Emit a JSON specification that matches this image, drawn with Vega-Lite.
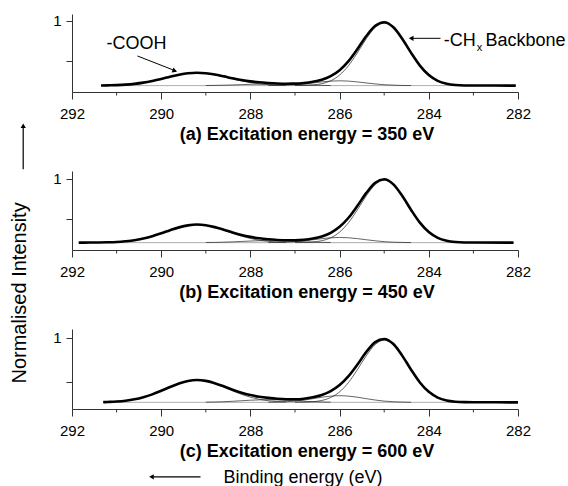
{
"$schema": "https://vega.github.io/schema/vega-lite/v6.json",
"background": "white",
"padding": {"left": 9, "top": 13, "right": 0, "bottom": 0},
"config": {"font": "Liberation Sans", "view": {"stroke": null},
  "axis": {"domainColor": "#333", "tickColor": "#333", "labelColor": "#000", "titleColor": "#000", "labelFont": "Liberation Sans", "titleFont": "Liberation Sans", "grid": false, "labelFontSize": 15, "domainWidth": 1, "tickWidth": 1},
  "text": {"font": "Liberation Sans", "color": "#000"}},
"datasets": {
"one": [{"k": 1}],
"minor": [{"x":283},{"x":285},{"x":287},{"x":289},{"x":291}],
"curves": [
{"p":"a","s":"B","x":282.05,"y":0.19},{"p":"a","s":"B","x":291.35,"y":0.19},
{"p":"a","s":"E","x":282.05,"y":0.19},{"p":"a","s":"E","x":283.0,"y":0.191},{"p":"a","s":"E","x":283.2,"y":0.192},{"p":"a","s":"E","x":283.4,"y":0.198},{"p":"a","s":"E","x":283.6,"y":0.214},{"p":"a","s":"E","x":283.8,"y":0.25},{"p":"a","s":"E","x":284.0,"y":0.322},{"p":"a","s":"E","x":284.2,"y":0.44},{"p":"a","s":"E","x":284.4,"y":0.602},{"p":"a","s":"E","x":284.6,"y":0.779},{"p":"a","s":"E","x":284.8,"y":0.922},{"p":"a","s":"E","x":285.0,"y":0.982},{"p":"a","s":"E","x":285.2,"y":0.937},{"p":"a","s":"E","x":285.4,"y":0.81},{"p":"a","s":"E","x":285.6,"y":0.647},{"p":"a","s":"E","x":285.8,"y":0.496},{"p":"a","s":"E","x":286.0,"y":0.382},{"p":"a","s":"E","x":286.2,"y":0.308},{"p":"a","s":"E","x":286.4,"y":0.263},{"p":"a","s":"E","x":286.6,"y":0.237},{"p":"a","s":"E","x":286.8,"y":0.222},{"p":"a","s":"E","x":287.0,"y":0.215},{"p":"a","s":"E","x":287.2,"y":0.214},{"p":"a","s":"E","x":287.4,"y":0.217},{"p":"a","s":"E","x":287.6,"y":0.223},{"p":"a","s":"E","x":287.8,"y":0.231},{"p":"a","s":"E","x":288.0,"y":0.243},{"p":"a","s":"E","x":288.2,"y":0.26},{"p":"a","s":"E","x":288.4,"y":0.281},{"p":"a","s":"E","x":288.6,"y":0.306},{"p":"a","s":"E","x":288.8,"y":0.329},{"p":"a","s":"E","x":289.0,"y":0.345},{"p":"a","s":"E","x":289.2,"y":0.351},{"p":"a","s":"E","x":289.4,"y":0.344},{"p":"a","s":"E","x":289.6,"y":0.326},{"p":"a","s":"E","x":289.8,"y":0.301},{"p":"a","s":"E","x":290.0,"y":0.273},{"p":"a","s":"E","x":290.2,"y":0.248},{"p":"a","s":"E","x":290.4,"y":0.227},{"p":"a","s":"E","x":290.6,"y":0.212},{"p":"a","s":"E","x":290.8,"y":0.202},{"p":"a","s":"E","x":291.0,"y":0.196},{"p":"a","s":"E","x":291.2,"y":0.193},{"p":"a","s":"E","x":291.35,"y":0.191},
{"p":"a","s":"1","x":283.0,"y":0.191},{"p":"a","s":"1","x":283.2,"y":0.192},{"p":"a","s":"1","x":283.4,"y":0.198},{"p":"a","s":"1","x":283.6,"y":0.214},{"p":"a","s":"1","x":283.8,"y":0.25},{"p":"a","s":"1","x":284.0,"y":0.322},{"p":"a","s":"1","x":284.2,"y":0.44},{"p":"a","s":"1","x":284.4,"y":0.601},{"p":"a","s":"1","x":284.6,"y":0.777},{"p":"a","s":"1","x":284.8,"y":0.916},{"p":"a","s":"1","x":285.0,"y":0.97},{"p":"a","s":"1","x":285.2,"y":0.916},{"p":"a","s":"1","x":285.4,"y":0.777},{"p":"a","s":"1","x":285.6,"y":0.601},{"p":"a","s":"1","x":285.8,"y":0.44},{"p":"a","s":"1","x":286.0,"y":0.322},{"p":"a","s":"1","x":286.2,"y":0.25},{"p":"a","s":"1","x":286.4,"y":0.214},{"p":"a","s":"1","x":286.6,"y":0.198},{"p":"a","s":"1","x":286.8,"y":0.192},{"p":"a","s":"1","x":287.0,"y":0.191},
{"p":"a","s":"2","x":284.4,"y":0.191},{"p":"a","s":"2","x":284.6,"y":0.192},{"p":"a","s":"2","x":284.8,"y":0.196},{"p":"a","s":"2","x":285.0,"y":0.201},{"p":"a","s":"2","x":285.2,"y":0.211},{"p":"a","s":"2","x":285.4,"y":0.223},{"p":"a","s":"2","x":285.6,"y":0.236},{"p":"a","s":"2","x":285.8,"y":0.246},{"p":"a","s":"2","x":286.0,"y":0.25},{"p":"a","s":"2","x":286.2,"y":0.246},{"p":"a","s":"2","x":286.4,"y":0.236},{"p":"a","s":"2","x":286.6,"y":0.223},{"p":"a","s":"2","x":286.8,"y":0.211},{"p":"a","s":"2","x":287.0,"y":0.201},{"p":"a","s":"2","x":287.2,"y":0.196},{"p":"a","s":"2","x":287.4,"y":0.192},{"p":"a","s":"2","x":287.6,"y":0.191},
{"p":"a","s":"3","x":286.2,"y":0.191},{"p":"a","s":"3","x":286.4,"y":0.193},{"p":"a","s":"3","x":286.6,"y":0.195},{"p":"a","s":"3","x":286.8,"y":0.198},{"p":"a","s":"3","x":287.0,"y":0.202},{"p":"a","s":"3","x":287.2,"y":0.206},{"p":"a","s":"3","x":287.4,"y":0.209},{"p":"a","s":"3","x":287.6,"y":0.21},{"p":"a","s":"3","x":287.8,"y":0.209},{"p":"a","s":"3","x":288.0,"y":0.206},{"p":"a","s":"3","x":288.2,"y":0.202},{"p":"a","s":"3","x":288.4,"y":0.198},{"p":"a","s":"3","x":288.6,"y":0.195},{"p":"a","s":"3","x":288.8,"y":0.193},{"p":"a","s":"3","x":289.0,"y":0.191},
{"p":"a","s":"4","x":287.2,"y":0.193},{"p":"a","s":"4","x":287.4,"y":0.196},{"p":"a","s":"4","x":287.6,"y":0.202},{"p":"a","s":"4","x":287.8,"y":0.212},{"p":"a","s":"4","x":288.0,"y":0.227},{"p":"a","s":"4","x":288.2,"y":0.248},{"p":"a","s":"4","x":288.4,"y":0.273},{"p":"a","s":"4","x":288.6,"y":0.301},{"p":"a","s":"4","x":288.8,"y":0.326},{"p":"a","s":"4","x":289.0,"y":0.344},{"p":"a","s":"4","x":289.2,"y":0.35},{"p":"a","s":"4","x":289.4,"y":0.344},{"p":"a","s":"4","x":289.6,"y":0.326},{"p":"a","s":"4","x":289.8,"y":0.301},{"p":"a","s":"4","x":290.0,"y":0.273},{"p":"a","s":"4","x":290.2,"y":0.248},{"p":"a","s":"4","x":290.4,"y":0.227},{"p":"a","s":"4","x":290.6,"y":0.212},{"p":"a","s":"4","x":290.8,"y":0.202},{"p":"a","s":"4","x":291.0,"y":0.196},{"p":"a","s":"4","x":291.2,"y":0.193},
{"p":"b","s":"B","x":282.1,"y":0.2},{"p":"b","s":"B","x":291.85,"y":0.2},
{"p":"b","s":"E","x":282.1,"y":0.2},{"p":"b","s":"E","x":283.0,"y":0.201},{"p":"b","s":"E","x":283.2,"y":0.202},{"p":"b","s":"E","x":283.4,"y":0.208},{"p":"b","s":"E","x":283.6,"y":0.224},{"p":"b","s":"E","x":283.8,"y":0.26},{"p":"b","s":"E","x":284.0,"y":0.332},{"p":"b","s":"E","x":284.2,"y":0.45},{"p":"b","s":"E","x":284.4,"y":0.612},{"p":"b","s":"E","x":284.6,"y":0.789},{"p":"b","s":"E","x":284.8,"y":0.932},{"p":"b","s":"E","x":285.0,"y":0.992},{"p":"b","s":"E","x":285.2,"y":0.949},{"p":"b","s":"E","x":285.4,"y":0.822},{"p":"b","s":"E","x":285.6,"y":0.661},{"p":"b","s":"E","x":285.8,"y":0.511},{"p":"b","s":"E","x":286.0,"y":0.398},{"p":"b","s":"E","x":286.2,"y":0.323},{"p":"b","s":"E","x":286.4,"y":0.277},{"p":"b","s":"E","x":286.6,"y":0.251},{"p":"b","s":"E","x":286.8,"y":0.236},{"p":"b","s":"E","x":287.0,"y":0.23},{"p":"b","s":"E","x":287.2,"y":0.23},{"p":"b","s":"E","x":287.4,"y":0.234},{"p":"b","s":"E","x":287.6,"y":0.242},{"p":"b","s":"E","x":287.8,"y":0.254},{"p":"b","s":"E","x":288.0,"y":0.272},{"p":"b","s":"E","x":288.2,"y":0.296},{"p":"b","s":"E","x":288.4,"y":0.327},{"p":"b","s":"E","x":288.6,"y":0.362},{"p":"b","s":"E","x":288.8,"y":0.394},{"p":"b","s":"E","x":289.0,"y":0.418},{"p":"b","s":"E","x":289.2,"y":0.426},{"p":"b","s":"E","x":289.4,"y":0.416},{"p":"b","s":"E","x":289.6,"y":0.391},{"p":"b","s":"E","x":289.8,"y":0.356},{"p":"b","s":"E","x":290.0,"y":0.317},{"p":"b","s":"E","x":290.2,"y":0.281},{"p":"b","s":"E","x":290.4,"y":0.252},{"p":"b","s":"E","x":290.6,"y":0.23},{"p":"b","s":"E","x":290.8,"y":0.217},{"p":"b","s":"E","x":291.0,"y":0.208},{"p":"b","s":"E","x":291.2,"y":0.204},{"p":"b","s":"E","x":291.4,"y":0.202},{"p":"b","s":"E","x":291.6,"y":0.201},{"p":"b","s":"E","x":291.85,"y":0.2},
{"p":"b","s":"1","x":283.0,"y":0.201},{"p":"b","s":"1","x":283.2,"y":0.202},{"p":"b","s":"1","x":283.4,"y":0.208},{"p":"b","s":"1","x":283.6,"y":0.224},{"p":"b","s":"1","x":283.8,"y":0.26},{"p":"b","s":"1","x":284.0,"y":0.332},{"p":"b","s":"1","x":284.2,"y":0.45},{"p":"b","s":"1","x":284.4,"y":0.611},{"p":"b","s":"1","x":284.6,"y":0.787},{"p":"b","s":"1","x":284.8,"y":0.926},{"p":"b","s":"1","x":285.0,"y":0.98},{"p":"b","s":"1","x":285.2,"y":0.926},{"p":"b","s":"1","x":285.4,"y":0.787},{"p":"b","s":"1","x":285.6,"y":0.611},{"p":"b","s":"1","x":285.8,"y":0.45},{"p":"b","s":"1","x":286.0,"y":0.332},{"p":"b","s":"1","x":286.2,"y":0.26},{"p":"b","s":"1","x":286.4,"y":0.224},{"p":"b","s":"1","x":286.6,"y":0.208},{"p":"b","s":"1","x":286.8,"y":0.202},{"p":"b","s":"1","x":287.0,"y":0.201},
{"p":"b","s":"2","x":284.4,"y":0.201},{"p":"b","s":"2","x":284.6,"y":0.203},{"p":"b","s":"2","x":284.8,"y":0.206},{"p":"b","s":"2","x":285.0,"y":0.212},{"p":"b","s":"2","x":285.2,"y":0.223},{"p":"b","s":"2","x":285.4,"y":0.236},{"p":"b","s":"2","x":285.6,"y":0.25},{"p":"b","s":"2","x":285.8,"y":0.261},{"p":"b","s":"2","x":286.0,"y":0.265},{"p":"b","s":"2","x":286.2,"y":0.261},{"p":"b","s":"2","x":286.4,"y":0.25},{"p":"b","s":"2","x":286.6,"y":0.236},{"p":"b","s":"2","x":286.8,"y":0.223},{"p":"b","s":"2","x":287.0,"y":0.212},{"p":"b","s":"2","x":287.2,"y":0.206},{"p":"b","s":"2","x":287.4,"y":0.203},{"p":"b","s":"2","x":287.6,"y":0.201},
{"p":"b","s":"3","x":286.2,"y":0.202},{"p":"b","s":"3","x":286.4,"y":0.203},{"p":"b","s":"3","x":286.6,"y":0.206},{"p":"b","s":"3","x":286.8,"y":0.21},{"p":"b","s":"3","x":287.0,"y":0.215},{"p":"b","s":"3","x":287.2,"y":0.22},{"p":"b","s":"3","x":287.4,"y":0.224},{"p":"b","s":"3","x":287.6,"y":0.225},{"p":"b","s":"3","x":287.8,"y":0.224},{"p":"b","s":"3","x":288.0,"y":0.22},{"p":"b","s":"3","x":288.2,"y":0.215},{"p":"b","s":"3","x":288.4,"y":0.21},{"p":"b","s":"3","x":288.6,"y":0.206},{"p":"b","s":"3","x":288.8,"y":0.203},{"p":"b","s":"3","x":289.0,"y":0.202},
{"p":"b","s":"4","x":287.2,"y":0.204},{"p":"b","s":"4","x":287.4,"y":0.208},{"p":"b","s":"4","x":287.6,"y":0.217},{"p":"b","s":"4","x":287.8,"y":0.23},{"p":"b","s":"4","x":288.0,"y":0.252},{"p":"b","s":"4","x":288.2,"y":0.281},{"p":"b","s":"4","x":288.4,"y":0.317},{"p":"b","s":"4","x":288.6,"y":0.356},{"p":"b","s":"4","x":288.8,"y":0.391},{"p":"b","s":"4","x":289.0,"y":0.416},{"p":"b","s":"4","x":289.2,"y":0.425},{"p":"b","s":"4","x":289.4,"y":0.416},{"p":"b","s":"4","x":289.6,"y":0.391},{"p":"b","s":"4","x":289.8,"y":0.356},{"p":"b","s":"4","x":290.0,"y":0.317},{"p":"b","s":"4","x":290.2,"y":0.281},{"p":"b","s":"4","x":290.4,"y":0.252},{"p":"b","s":"4","x":290.6,"y":0.23},{"p":"b","s":"4","x":290.8,"y":0.217},{"p":"b","s":"4","x":291.0,"y":0.208},{"p":"b","s":"4","x":291.2,"y":0.204},
{"p":"c","s":"B","x":282.0,"y":0.275},{"p":"c","s":"B","x":291.3,"y":0.275},
{"p":"c","s":"E","x":282.0,"y":0.275},{"p":"c","s":"E","x":283.0,"y":0.276},{"p":"c","s":"E","x":283.2,"y":0.277},{"p":"c","s":"E","x":283.4,"y":0.282},{"p":"c","s":"E","x":283.6,"y":0.296},{"p":"c","s":"E","x":283.8,"y":0.329},{"p":"c","s":"E","x":284.0,"y":0.393},{"p":"c","s":"E","x":284.2,"y":0.499},{"p":"c","s":"E","x":284.4,"y":0.645},{"p":"c","s":"E","x":284.6,"y":0.804},{"p":"c","s":"E","x":284.8,"y":0.934},{"p":"c","s":"E","x":285.0,"y":0.989},{"p":"c","s":"E","x":285.2,"y":0.953},{"p":"c","s":"E","x":285.4,"y":0.843},{"p":"c","s":"E","x":285.6,"y":0.701},{"p":"c","s":"E","x":285.8,"y":0.57},{"p":"c","s":"E","x":286.0,"y":0.469},{"p":"c","s":"E","x":286.2,"y":0.401},{"p":"c","s":"E","x":286.4,"y":0.358},{"p":"c","s":"E","x":286.6,"y":0.332},{"p":"c","s":"E","x":286.8,"y":0.316},{"p":"c","s":"E","x":287.0,"y":0.31},{"p":"c","s":"E","x":287.2,"y":0.31},{"p":"c","s":"E","x":287.4,"y":0.315},{"p":"c","s":"E","x":287.6,"y":0.325},{"p":"c","s":"E","x":287.8,"y":0.338},{"p":"c","s":"E","x":288.0,"y":0.357},{"p":"c","s":"E","x":288.2,"y":0.383},{"p":"c","s":"E","x":288.4,"y":0.417},{"p":"c","s":"E","x":288.6,"y":0.456},{"p":"c","s":"E","x":288.8,"y":0.491},{"p":"c","s":"E","x":289.0,"y":0.517},{"p":"c","s":"E","x":289.2,"y":0.526},{"p":"c","s":"E","x":289.4,"y":0.515},{"p":"c","s":"E","x":289.6,"y":0.487},{"p":"c","s":"E","x":289.8,"y":0.448},{"p":"c","s":"E","x":290.0,"y":0.405},{"p":"c","s":"E","x":290.2,"y":0.365},{"p":"c","s":"E","x":290.4,"y":0.333},{"p":"c","s":"E","x":290.6,"y":0.309},{"p":"c","s":"E","x":290.8,"y":0.293},{"p":"c","s":"E","x":291.0,"y":0.284},{"p":"c","s":"E","x":291.2,"y":0.279},{"p":"c","s":"E","x":291.3,"y":0.277},
{"p":"c","s":"1","x":283.0,"y":0.276},{"p":"c","s":"1","x":283.2,"y":0.277},{"p":"c","s":"1","x":283.4,"y":0.282},{"p":"c","s":"1","x":283.6,"y":0.296},{"p":"c","s":"1","x":283.8,"y":0.329},{"p":"c","s":"1","x":284.0,"y":0.393},{"p":"c","s":"1","x":284.2,"y":0.499},{"p":"c","s":"1","x":284.4,"y":0.644},{"p":"c","s":"1","x":284.6,"y":0.801},{"p":"c","s":"1","x":284.8,"y":0.927},{"p":"c","s":"1","x":285.0,"y":0.975},{"p":"c","s":"1","x":285.2,"y":0.927},{"p":"c","s":"1","x":285.4,"y":0.801},{"p":"c","s":"1","x":285.6,"y":0.644},{"p":"c","s":"1","x":285.8,"y":0.499},{"p":"c","s":"1","x":286.0,"y":0.393},{"p":"c","s":"1","x":286.2,"y":0.329},{"p":"c","s":"1","x":286.4,"y":0.296},{"p":"c","s":"1","x":286.6,"y":0.282},{"p":"c","s":"1","x":286.8,"y":0.277},{"p":"c","s":"1","x":287.0,"y":0.276},
{"p":"c","s":"2","x":284.4,"y":0.276},{"p":"c","s":"2","x":284.6,"y":0.278},{"p":"c","s":"2","x":284.8,"y":0.282},{"p":"c","s":"2","x":285.0,"y":0.289},{"p":"c","s":"2","x":285.2,"y":0.301},{"p":"c","s":"2","x":285.4,"y":0.316},{"p":"c","s":"2","x":285.6,"y":0.333},{"p":"c","s":"2","x":285.8,"y":0.345},{"p":"c","s":"2","x":286.0,"y":0.35},{"p":"c","s":"2","x":286.2,"y":0.345},{"p":"c","s":"2","x":286.4,"y":0.333},{"p":"c","s":"2","x":286.6,"y":0.316},{"p":"c","s":"2","x":286.8,"y":0.301},{"p":"c","s":"2","x":287.0,"y":0.289},{"p":"c","s":"2","x":287.2,"y":0.282},{"p":"c","s":"2","x":287.4,"y":0.278},{"p":"c","s":"2","x":287.6,"y":0.276},
{"p":"c","s":"3","x":286.2,"y":0.277},{"p":"c","s":"3","x":286.4,"y":0.279},{"p":"c","s":"3","x":286.6,"y":0.282},{"p":"c","s":"3","x":286.8,"y":0.287},{"p":"c","s":"3","x":287.0,"y":0.293},{"p":"c","s":"3","x":287.2,"y":0.299},{"p":"c","s":"3","x":287.4,"y":0.303},{"p":"c","s":"3","x":287.6,"y":0.305},{"p":"c","s":"3","x":287.8,"y":0.303},{"p":"c","s":"3","x":288.0,"y":0.299},{"p":"c","s":"3","x":288.2,"y":0.293},{"p":"c","s":"3","x":288.4,"y":0.287},{"p":"c","s":"3","x":288.6,"y":0.282},{"p":"c","s":"3","x":288.8,"y":0.279},{"p":"c","s":"3","x":289.0,"y":0.277},
{"p":"c","s":"4","x":287.2,"y":0.279},{"p":"c","s":"4","x":287.4,"y":0.284},{"p":"c","s":"4","x":287.6,"y":0.293},{"p":"c","s":"4","x":287.8,"y":0.309},{"p":"c","s":"4","x":288.0,"y":0.333},{"p":"c","s":"4","x":288.2,"y":0.365},{"p":"c","s":"4","x":288.4,"y":0.405},{"p":"c","s":"4","x":288.6,"y":0.448},{"p":"c","s":"4","x":288.8,"y":0.487},{"p":"c","s":"4","x":289.0,"y":0.515},{"p":"c","s":"4","x":289.2,"y":0.525},{"p":"c","s":"4","x":289.4,"y":0.515},{"p":"c","s":"4","x":289.6,"y":0.487},{"p":"c","s":"4","x":289.8,"y":0.448},{"p":"c","s":"4","x":290.0,"y":0.405},{"p":"c","s":"4","x":290.2,"y":0.365},{"p":"c","s":"4","x":290.4,"y":0.333},{"p":"c","s":"4","x":290.6,"y":0.309},{"p":"c","s":"4","x":290.8,"y":0.293},{"p":"c","s":"4","x":291.0,"y":0.284},{"p":"c","s":"4","x":291.2,"y":0.279}
]},
"spacing": 79,
"bounds": "flush",
"vconcat": [
{
 "width": 446, "height": 78,
 "layer": [
  {"data": {"name": "curves"}, "transform": [{"filter": "datum.p == 'a' && datum.s == 'B'"}], "mark": {"type": "line", "color": "#999", "strokeWidth": 0.8},
   "encoding": {
    "x": {"field": "x", "type": "quantitative", "scale": {"domain": [282, 292], "reverse": true, "nice": false, "zero": false},
     "axis": {"values": [282, 284, 286, 288, 290, 292], "format": "d", "tickSize": 7, "labelPadding": 7, "labelFlush": false, "title": "(a) Excitation energy = 350 eV", "titleFontSize": 18, "titleFontWeight": "bold", "titleX": 234.5, "titleY": 47.5, "titleBaseline": "alphabetic", "titleAlign": "center"}},
    "y": {"field": "y", "type": "quantitative", "scale": {"domain": [0.11, 1.085], "nice": false, "zero": false},
     "axis": {"values": [0.5, 1], "labelExpr": "datum.value == 1 ? '1' : ''", "tickSize": 6, "labelPadding": 5, "title": null}}}},
  {"data": {"name": "curves"}, "transform": [{"filter": "datum.p == 'a' && datum.s != 'B' && datum.s != 'E'"}], "mark": {"type": "line", "color": "#222", "strokeWidth": 0.7, "interpolate": "monotone"},
   "encoding": {"x": {"field": "x", "type": "quantitative"}, "y": {"field": "y", "type": "quantitative"}, "detail": {"field": "s"}}},
  {"data": {"name": "curves"}, "transform": [{"filter": "datum.p == 'a' && datum.s == 'E'"}], "mark": {"type": "line", "color": "#000", "strokeWidth": 2.6, "interpolate": "monotone"},
   "encoding": {"x": {"field": "x", "type": "quantitative"}, "y": {"field": "y", "type": "quantitative"}}},
  {"data": {"name": "minor"}, "mark": {"type": "rule", "color": "#333", "strokeWidth": 1}, "encoding": {"x": {"field": "x", "type": "quantitative"}, "y": {"datum": 0.11, "type": "quantitative"}, "y2": {"datum": 0.066}}},
  {"data": {"name": "one"}, "mark": {"type": "text", "align": "left", "baseline": "alphabetic", "fontSize": 18, "text": "-COOH"}, "encoding": {"x": {"datum": 291.226, "type": "quantitative"}, "y": {"datum": 0.644, "type": "quantitative"}}},
  {"data": {"name": "one"}, "mark": {"type": "rule", "color": "#000", "strokeWidth": 1}, "encoding": {"x": {"datum": 290.531, "type": "quantitative"}, "y": {"datum": 0.56, "type": "quantitative"}, "x2": {"datum": 289.66}, "y2": {"datum": 0.37}}},
  {"data": {"name": "one"}, "mark": {"type": "point", "shape": "triangle-right", "filled": true, "size": 28, "color": "#000", "opacity": 1, "angle": 21.8}, "encoding": {"x": {"datum": 289.697, "type": "quantitative"}, "y": {"datum": 0.374, "type": "quantitative"}}},
  {"data": {"name": "one"}, "mark": {"type": "rule", "color": "#000", "strokeWidth": 1}, "encoding": {"x": {"datum": 283.738, "type": "quantitative"}, "y": {"datum": 0.781, "type": "quantitative"}, "x2": {"datum": 284.42}, "y2": {"datum": 0.781}}},
  {"data": {"name": "one"}, "mark": {"type": "point", "shape": "triangle-left", "filled": true, "size": 28, "color": "#000", "opacity": 1}, "encoding": {"x": {"datum": 284.395, "type": "quantitative"}, "y": {"datum": 0.781, "type": "quantitative"}}},
  {"data": {"name": "one"}, "mark": {"type": "text", "align": "left", "baseline": "alphabetic", "fontSize": 18, "text": "-CH"}, "encoding": {"x": {"datum": 283.664, "type": "quantitative"}, "y": {"datum": 0.685, "type": "quantitative"}}},
  {"data": {"name": "one"}, "mark": {"type": "text", "align": "left", "baseline": "alphabetic", "fontSize": 11, "text": "x"}, "encoding": {"x": {"datum": 282.925, "type": "quantitative"}, "y": {"datum": 0.622, "type": "quantitative"}}},
  {"data": {"name": "one"}, "mark": {"type": "text", "align": "left", "baseline": "alphabetic", "fontSize": 18, "text": "Backbone"}, "encoding": {"x": {"datum": 282.729, "type": "quantitative"}, "y": {"datum": 0.685, "type": "quantitative"}}}
 ]
},
{
 "width": 446, "height": 79,
 "layer": [
  {"data": {"name": "curves"}, "transform": [{"filter": "datum.p == 'b' && datum.s == 'B'"}], "mark": {"type": "line", "color": "#999", "strokeWidth": 0.8},
   "encoding": {
    "x": {"field": "x", "type": "quantitative", "scale": {"domain": [282, 292], "reverse": true, "nice": false, "zero": false},
     "axis": {"values": [282, 284, 286, 288, 290, 292], "format": "d", "tickSize": 7, "labelPadding": 7, "labelFlush": false, "title": "(b) Excitation energy = 450 eV", "titleFontSize": 18, "titleFontWeight": "bold", "titleX": 234.5, "titleY": 47.5, "titleBaseline": "alphabetic", "titleAlign": "center"}},
    "y": {"field": "y", "type": "quantitative", "scale": {"domain": [0.108, 1.096], "nice": false, "zero": false},
     "axis": {"values": [0.5, 1], "labelExpr": "datum.value == 1 ? '1' : ''", "tickSize": 6, "labelPadding": 5, "title": null}}}},
  {"data": {"name": "curves"}, "transform": [{"filter": "datum.p == 'b' && datum.s != 'B' && datum.s != 'E'"}], "mark": {"type": "line", "color": "#222", "strokeWidth": 0.7, "interpolate": "monotone"},
   "encoding": {"x": {"field": "x", "type": "quantitative"}, "y": {"field": "y", "type": "quantitative"}, "detail": {"field": "s"}}},
  {"data": {"name": "curves"}, "transform": [{"filter": "datum.p == 'b' && datum.s == 'E'"}], "mark": {"type": "line", "color": "#000", "strokeWidth": 2.6, "interpolate": "monotone"},
   "encoding": {"x": {"field": "x", "type": "quantitative"}, "y": {"field": "y", "type": "quantitative"}}},
  {"data": {"name": "minor"}, "mark": {"type": "rule", "color": "#333", "strokeWidth": 1}, "encoding": {"x": {"field": "x", "type": "quantitative"}, "y": {"datum": 0.108, "type": "quantitative"}, "y2": {"datum": 0.064}}},
  {"data": {"name": "one"}, "mark": {"type": "text", "align": "center", "baseline": "middle", "angle": 270, "fontSize": 20, "text": "Normalised Intensity"}, "encoding": {"x": {"datum": 293.177, "type": "quantitative"}, "y": {"datum": -0.429, "type": "quantitative"}}},
  {"data": {"name": "one"}, "mark": {"type": "rule", "color": "#000", "strokeWidth": 1.2}, "encoding": {"x": {"datum": 293.094, "type": "quantitative"}, "y": {"datum": 1.117, "type": "quantitative"}, "x2": {"datum": 293.094}, "y2": {"datum": 1.66}}},
  {"data": {"name": "one"}, "mark": {"type": "point", "shape": "triangle-up", "filled": true, "size": 28, "color": "#000", "opacity": 1}, "encoding": {"x": {"datum": 293.094, "type": "quantitative"}, "y": {"datum": 1.662, "type": "quantitative"}}}
 ]
},
{
 "width": 446, "height": 80,
 "layer": [
  {"data": {"name": "curves"}, "transform": [{"filter": "datum.p == 'c' && datum.s == 'B'"}], "mark": {"type": "line", "color": "#999", "strokeWidth": 0.8},
   "encoding": {
    "x": {"field": "x", "type": "quantitative", "scale": {"domain": [282, 292], "reverse": true, "nice": false, "zero": false},
     "axis": {"values": [282, 284, 286, 288, 290, 292], "format": "d", "tickSize": 7, "labelPadding": 7, "labelFlush": false, "title": "(c) Excitation energy = 600 eV", "titleFontSize": 18, "titleFontWeight": "bold", "titleX": 234.5, "titleY": 47.5, "titleBaseline": "alphabetic", "titleAlign": "center"}},
    "y": {"field": "y", "type": "quantitative", "scale": {"domain": [0.2, 1.101], "nice": false, "zero": false},
     "axis": {"values": [0.5, 1], "labelExpr": "datum.value == 1 ? '1' : ''", "tickSize": 6, "labelPadding": 5, "title": null}}}},
  {"data": {"name": "curves"}, "transform": [{"filter": "datum.p == 'c' && datum.s != 'B' && datum.s != 'E'"}], "mark": {"type": "line", "color": "#222", "strokeWidth": 0.7, "interpolate": "monotone"},
   "encoding": {"x": {"field": "x", "type": "quantitative"}, "y": {"field": "y", "type": "quantitative"}, "detail": {"field": "s"}}},
  {"data": {"name": "curves"}, "transform": [{"filter": "datum.p == 'c' && datum.s == 'E'"}], "mark": {"type": "line", "color": "#000", "strokeWidth": 2.6, "interpolate": "monotone"},
   "encoding": {"x": {"field": "x", "type": "quantitative"}, "y": {"field": "y", "type": "quantitative"}}},
  {"data": {"name": "minor"}, "mark": {"type": "rule", "color": "#333", "strokeWidth": 1}, "encoding": {"x": {"field": "x", "type": "quantitative"}, "y": {"datum": 0.2, "type": "quantitative"}, "y2": {"datum": 0.161}}},
  {"data": {"name": "one"}, "mark": {"type": "text", "align": "left", "baseline": "alphabetic", "fontSize": 18, "text": "Binding energy (eV)"}, "encoding": {"x": {"datum": 288.603, "type": "quantitative"}, "y": {"datum": -0.628, "type": "quantitative"}}},
  {"data": {"name": "one"}, "mark": {"type": "rule", "color": "#000", "strokeWidth": 1.2}, "encoding": {"x": {"datum": 289.119, "type": "quantitative"}, "y": {"datum": -0.564, "type": "quantitative"}, "x2": {"datum": 290.2}, "y2": {"datum": -0.564}}},
  {"data": {"name": "one"}, "mark": {"type": "point", "shape": "triangle-left", "filled": true, "size": 28, "color": "#000", "opacity": 1}, "encoding": {"x": {"datum": 290.218, "type": "quantitative"}, "y": {"datum": -0.564, "type": "quantitative"}}}
 ]
}
]
}
